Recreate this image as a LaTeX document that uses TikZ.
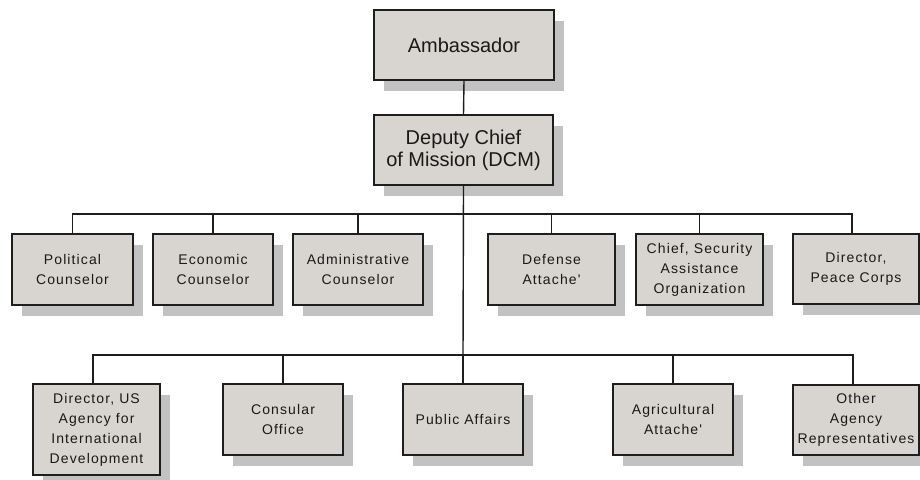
\documentclass[tikz,border=0pt]{standalone}
\usepackage{fontspec}
\setmainfont{Liberation Sans}
\newfontfamily\unitfamily[LetterSpace=8]{Liberation Sans}
\newcommand\bigunitfont{\fontsize{20}{22}\selectfont}
\newcommand\smallunitfont{\unitfamily\fontsize{14}{20}\selectfont}
\definecolor{unitfill}{RGB}{216,212,208}
\definecolor{unitshadow}{RGB}{194,194,194}
\definecolor{inkline}{RGB}{30,30,30}
\tikzset{
  unitbox/.style={draw=inkline, fill=unitfill, line width=1.6pt, inner sep=1pt,
    align=center, text=black!90},
  shadowbox/.style={fill=unitshadow, inner sep=0pt},
  link/.style={draw=inkline, line width=1.4pt}
}
% #1 name, #2 cx, #3 cy, #4 width, #5 height, #6 font, #7 text
\newcommand\orgunit[7]{%
  \node[shadowbox, minimum width=#4pt, minimum height=#5pt] at (#2+10,#3+11) {};
  \node[unitbox, minimum width=#4pt, minimum height=#5pt, font=#6] (#1) at (#2,#3) {#7};
}
\begin{document}
\begin{tikzpicture}[x=1pt,y=-1pt]
\fill[white] (0,0) rectangle (920,479);
\useasboundingbox (0,0) rectangle (920,479);

% senior posts
\orgunit{amb}{464}{45}{180}{70}{\bigunitfont}{Ambassador}
\orgunit{dcm}{463.5}{150}{179}{70}{\bigunitfont}{Deputy Chief\\of Mission (DCM)}

% first row of sections
\orgunit{pol}{72.5}{269.5}{121}{71}{\smallunitfont}{Political\\Counselor}
\orgunit{eco}{213}{269.5}{120}{71}{\smallunitfont}{Economic\\Counselor}
\orgunit{adm}{358}{269.5}{130}{71}{\smallunitfont}{Administrative\\Counselor}
\orgunit{def}{551.5}{269.5}{127}{71}{\smallunitfont}{Defense\\Attache'}
\orgunit{sec}{699.5}{269.5}{127}{71}{\smallunitfont}{Chief, Security\\Assistance\\Organization}
\orgunit{pce}{856}{269}{126}{70}{\smallunitfont}{Director,\\Peace Corps}

% second row of sections
\orgunit{aid}{96.5}{429.5}{127}{91}{\smallunitfont}{Director, US\\Agency for\\International\\Development}
\orgunit{con}{283}{419.5}{120}{71}{\smallunitfont}{Consular\\Office}
\orgunit{pub}{463}{419.5}{120}{71}{\smallunitfont}{Public Affairs}
\orgunit{agr}{673}{419.5}{120}{71}{\smallunitfont}{Agricultural\\Attache'}
\orgunit{oth}{856}{420}{126}{70}{\smallunitfont}{Other\\Agency\\Representatives}

% reporting lines
\coordinate (busA) at (463,214);
\coordinate (busB) at (463,355);
\path[link] (amb.south) -- (dcm.north);
\path[link] (dcm.south) -- (busB);
\path[link] (pol.north) |- (busA) -| ([xshift=-4pt]pce.north);
\foreach \u in {eco,adm,def,sec}
  \path[link] (\u.north) -- (\u.north |- busA);
\path[link] ([xshift=-3.5pt]aid.north) |- (busB) -| ([xshift=-3pt]oth.north);
\foreach \u in {con,pub,agr}
  \path[link] (\u.north) -- (\u.north |- busB);
\end{tikzpicture}
\end{document}
